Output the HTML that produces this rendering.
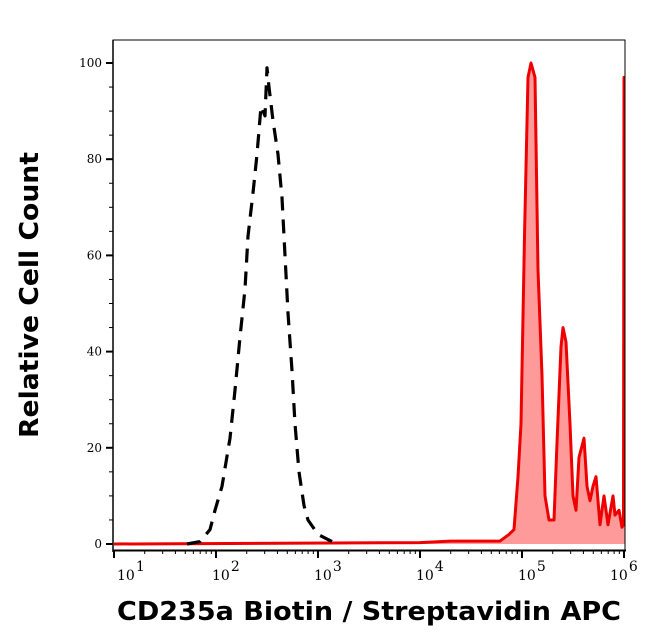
<!DOCTYPE html>
<html><head><meta charset="utf-8"><style>
html,body{margin:0;padding:0;background:#fff;}
svg{display:block;}
</style></head><body>
<svg id="chart" width="646" height="641" viewBox="0 0 646 641" xmlns="http://www.w3.org/2000/svg">
<g id="plot"></g>
<g id="axes"></g>
<text x="38" y="295" transform="rotate(-90 38 295)" text-anchor="middle" font-family="'DejaVu Sans','Liberation Sans',sans-serif" font-weight="bold" font-size="26" textLength="286" lengthAdjust="spacingAndGlyphs">Relative Cell Count</text>
<text x="369" y="620" text-anchor="middle" font-family="'DejaVu Sans','Liberation Sans',sans-serif" font-weight="bold" font-size="26" textLength="504" lengthAdjust="spacingAndGlyphs">CD235a Biotin / Streptavidin APC</text>
</svg>
<script>
// Data (x in log10 units of fluorescence, y = relative count)
const controlLogX = [1.716,1.843,1.941,1.990,2.059,2.137,2.186,2.235,2.284,2.314,2.363,2.402,2.441,2.480,2.500,2.520,2.559,2.608,2.647,2.676,2.706,2.745,2.775,2.814,2.863,2.902,3.0,3.137];
const controlCount = [0,0.5,3,7,12,22,32,43,53,64,73,81,91,89,99,95,88,81,72,60,48,36,25,15,8,5,2,0.5];
const stainedLogX = [1.0,4.0,4.3,4.588,4.784,4.873,4.922,4.961,4.990,5.025,5.059,5.088,5.127,5.157,5.196,5.225,5.265,5.314,5.343,5.382,5.402,5.431,5.471,5.5,5.529,5.559,5.608,5.637,5.667,5.696,5.725,5.765,5.804,5.843,5.892,5.912,5.951,5.980,5.995,6.0,6.008];
const stainedCount = [0,0.3,0.6,0.6,0.6,2,3,14,25,64,97,100,97,57,35,10,5,5,21,41,45,42,25,10,7,18,22,12,9,12,14,4,10,4,10,6,7,3.5,4,97,97];
const yTicks = [0,20,40,60,80,100];
const xDecades = [1,2,3,4,5,6];

const NS="http://www.w3.org/2000/svg";
const L=113,R=625,T=40,B=550;
const xs = lx => 114 + (lx-1)*102;
const ys = v => 544 - v*4.81;
function mk(tag,attrs,parent){const e=document.createElementNS(NS,tag);for(const k in attrs)e.setAttribute(k,attrs[k]);parent.appendChild(e);return e;}
const plot=document.getElementById('plot'), axes=document.getElementById('axes');

let pts=stainedLogX.map((lx,i)=>xs(lx).toFixed(1)+','+ys(stainedCount[i]).toFixed(1));
const fill=mk('polygon',{points:xs(1)+','+ys(0)+' '+pts.join(' ')+' '+xs(6.008)+','+ys(0),fill:'#ff9a9a',stroke:'none'},plot);


const sl=mk('polyline',{points:pts.join(' '),fill:'none',stroke:'#ee0000','stroke-width':3,'stroke-linejoin':'round'},plot);



let cp=controlLogX.map((lx,i)=>xs(lx).toFixed(1)+','+ys(controlCount[i]).toFixed(1));
const cl=mk('polyline',{points:cp.join(' '),fill:'none',stroke:'#000','stroke-width':3.2,'stroke-dasharray':'14,9','stroke-linejoin':'round'},plot);



const fr=mk('path',{d:`M${L},${B} L${L},${T} L${R},${T} L${R},${B}`,fill:'none',stroke:'#000','stroke-width':1},axes);


const xa=mk('line',{x1:L,y1:B+0.5,x2:R+1,y2:B+0.5,stroke:'#000','stroke-width':2},axes);


const ya=mk('line',{x1:L,y1:T,x2:L,y2:B+2,stroke:'#000','stroke-width':1.5},axes);



for(let v=0;v<=100;v+=5){
  const major=v%20===0;
  const t=mk('line',{x1:major?L-7:L-4,y1:ys(v),x2:L,y2:ys(v),stroke:'#000','stroke-width':major?2:1},axes);
  
  
}
yTicks.forEach(v=>{
  const t=mk('text',{x:L-11,y:ys(v)+4,'text-anchor':'end','font-family':"'DejaVu Serif','Liberation Serif',serif",'font-size':12},axes);
  t.textContent=String(v);
  
  
});
xDecades.forEach(d=>{
  const t=mk('line',{x1:xs(d),y1:B,x2:xs(d),y2:B+8,stroke:'#000','stroke-width':2},axes);
  
  
  if(d<6){for(let m=2;m<=9;m++){const lx=d+Math.log10(m);
    const mt=mk('line',{x1:xs(lx),y1:B,x2:xs(lx),y2:B+4,stroke:'#000','stroke-width':1},axes);
    
    }}
  const off = d===1 ? 3 : (d===6 ? -14 : -4);
  const lab=mk('text',{x:xs(d)+off,y:B+30,'text-anchor':'start','font-family':"'DejaVu Serif','Liberation Serif',serif",'font-size':14},axes);
  
  
  lab.appendChild(document.createTextNode('10'));
  const sup=mk('tspan',{dy:-9,dx:1,'font-size':14},lab);
  sup.textContent=String(d);
});
</script>
</body></html>
